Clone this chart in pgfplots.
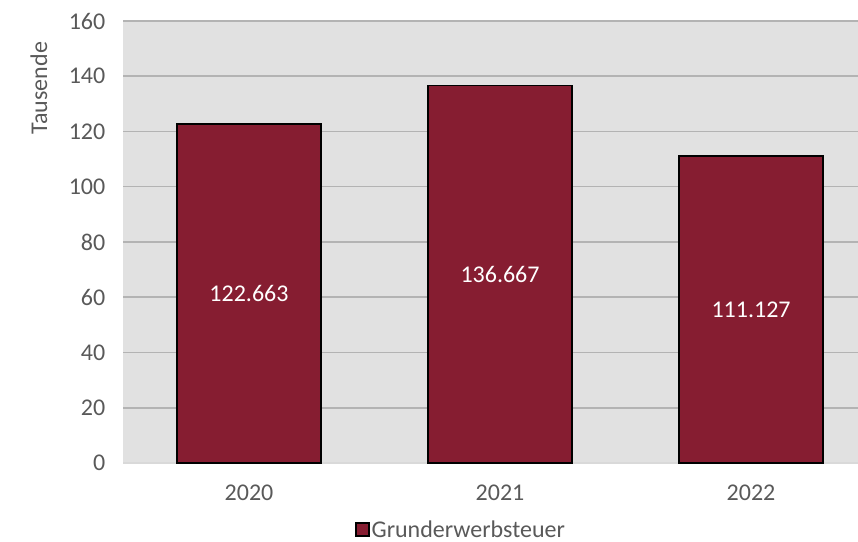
\documentclass[border=0pt]{standalone}
\usepackage{fontspec}
\setmainfont{Carlito}
\usepackage{pgfplots}
\pgfplotsset{compat=1.18}
\definecolor{barred}{HTML}{861D31}
\definecolor{bgray}{HTML}{E1E1E1}
\definecolor{gridc}{HTML}{B3B3B3}
\definecolor{txt}{HTML}{595959}
\newcommand{\cf}{\fontsize{24bp}{28bp}\selectfont}
\begin{document}
\begin{tikzpicture}
\begin{axis}[
  at={(0,0)}, anchor=south west,
  scale only axis,
  width=734.5bp, height=442bp,
  xmin=-0.5, xmax=2.426,
  ymin=0, ymax=160,
  xtick={0,1,2}, xticklabels={2020,2021,2022},
  ytick={20,40,...,160},
  extra y ticks={0},
  extra y tick style={grid style={color=gridc!50, line width=1.5bp}},
  ymajorgrids,
  grid style={color=gridc, line width=1.5bp},
  major tick length=0pt,
  axis line style={draw=none},
  axis background/.style={fill=bgray},
  /pgf/number format/assume math mode=true,
  tick label style={font=\cf, text=txt, inner sep=0pt},
  yticklabel style={xshift=-18bp},
  xticklabel style={yshift=-22bp},
  ylabel={Tausende},
  every axis y label/.style={at={(rel axis cs:0,0.848)}, xshift=-84.5bp, rotate=90, anchor=center, font=\cf, text=txt},
  legend style={at={(rel axis cs:0.4595,-0.1516)}, anchor=center, draw=none, fill=none, font=\cf, text=txt, inner sep=0pt,
    /tikz/every even column/.append style={column sep=0bp}},
  legend cell align=left,
  legend image code/.code={\draw[fill=barred, draw=black, line width=1.5bp] (0bp,-6bp) rectangle (13bp,7bp);},
]
\addplot[ybar, bar width=144bp, fill=barred, draw=black, line width=1.5bp] coordinates {(0,122.663) (1,136.667) (2,111.127)};
\addlegendentry{Grunderwerbsteuer}
\addplot[forget plot, draw=none, mark=none, nodes near coords, point meta=explicit symbolic,
  every node near coord/.style={anchor=center, font=\cf, text=white}]
  coordinates {(0,61.33)[122.663] (1,68.33)[136.667] (2,55.56)[111.127]};
\end{axis}
\pgfresetboundingbox
\useasboundingbox (-123.5bp,-79bp) rectangle (734.5bp,463bp);
\end{tikzpicture}
\end{document}
